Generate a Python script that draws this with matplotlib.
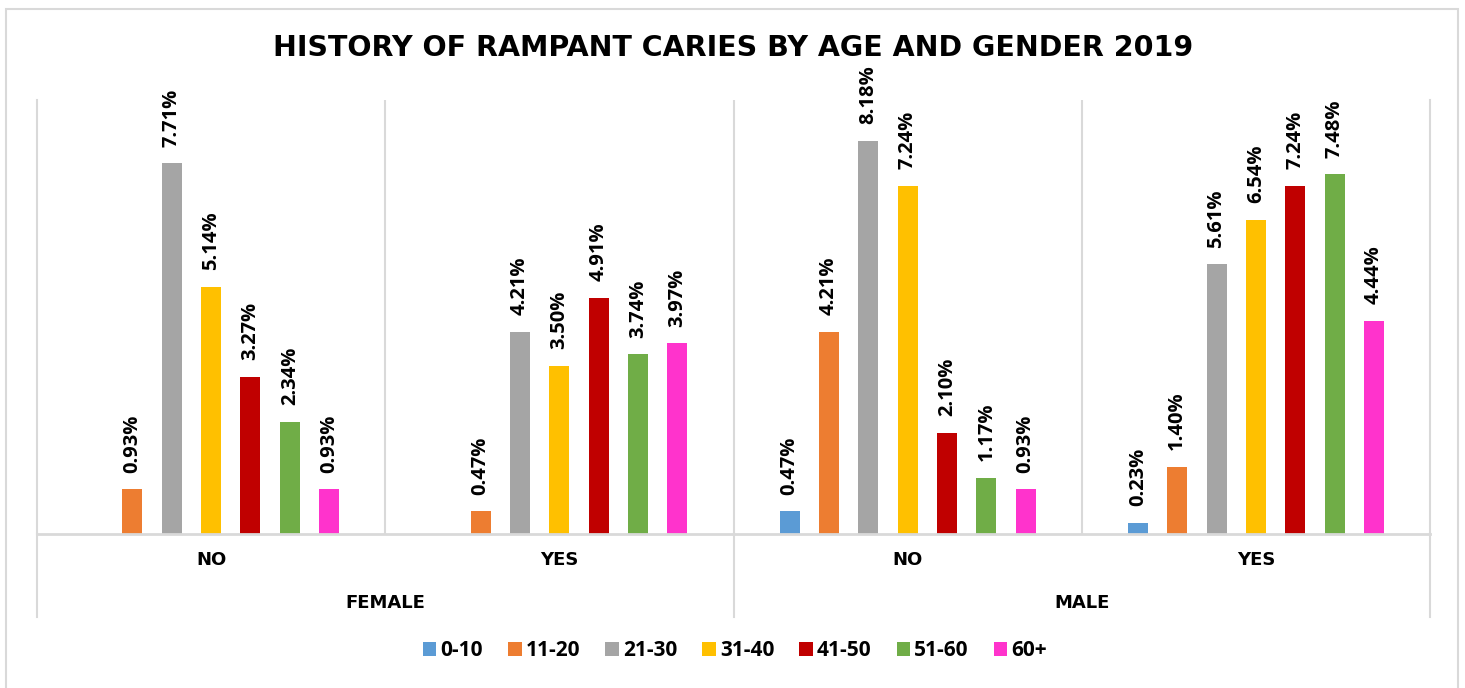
import matplotlib.pyplot as plt
from matplotlib.patches import Rectangle
import numpy as np

# Data (percent)
groups = ['NO', 'YES', 'NO', 'YES']
genders = ['FEMALE', 'MALE']
ages = ['0-10', '11-20', '21-30', '31-40', '41-50', '51-60', '60+']
colors = ['#5B9BD5', '#ED7D31', '#A5A5A5', '#FFC000', '#C00000', '#70AD47', '#FF33CC']

age_0_10 = [0, 0, 0.47, 0.23]
age_11_20 = [0.93, 0.47, 4.21, 1.40]
age_21_30 = [7.71, 4.21, 8.18, 5.61]
age_31_40 = [5.14, 3.50, 7.24, 6.54]
age_41_50 = [3.27, 4.91, 2.10, 7.24]
age_51_60 = [2.34, 3.74, 1.17, 7.48]
age_60_plus = [0.93, 3.97, 0.93, 4.44]
series = [age_0_10, age_11_20, age_21_30, age_31_40, age_41_50, age_51_60, age_60_plus]

W, H = 1465, 688
fig = plt.figure(figsize=(W / 100, H / 100), dpi=100)
grid_col = '#D9D9D9'
lab_font = 'Open Sans'

# Outer chart border
fig.patches.append(Rectangle((6 / W, -0.02), (1458 - 6) / W, 1.02 - 9 / H,
                             transform=fig.transFigure, fill=False,
                             edgecolor=grid_col, lw=1.5))

ax = fig.add_axes([37 / W, 1 - 534 / H, (1430 - 37) / W, (534 - 100) / H])

x = np.arange(len(groups))
slot = 0.113
width = 0.0575
handles = []
for i, (vals, col) in enumerate(zip(series, colors)):
    pos = x + (i - 3) * slot
    bars = ax.bar(pos, vals, width, color=col, label=ages[i])
    handles.append(bars)
    for px, v in zip(pos, vals):
        if v > 0:
            ax.annotate(f'{v:.2f}%', (px, v), xytext=(0, 12), textcoords='offset points',
                        rotation=90, ha='center', va='bottom',
                        fontsize=14.5, fontweight='bold', family=lab_font)

ax.set_xlim(-0.5, 3.5)
ax.set_ylim(0, 9.03)
ax.set_xticks([])
ax.set_yticks([])
ax.spines['top'].set_visible(False)
for s in ['left', 'right', 'bottom']:
    ax.spines[s].set_color(grid_col)
    ax.spines[s].set_linewidth(1.5)
ax.spines['bottom'].set_linewidth(2)

# separators between inner categories
for xs in [0.5, 1.5, 2.5]:
    ax.axvline(xs, color=grid_col, lw=1.5)

# multi-level category axis
trans = ax.get_xaxis_transform()
low = (534 - 617) / (534 - 100)
for xs in [-0.5, 1.5, 3.5]:
    ax.plot([xs, xs], [0, low], color=grid_col, lw=1.5, transform=trans, clip_on=False)
for xi, g in zip(x, groups):
    ax.text(xi, (534 - 560) / (534 - 100), g, transform=trans, ha='center', va='center',
            fontsize=13, fontweight='bold')
for gi, g in enumerate(genders):
    ax.text(gi * 2 + 0.5, (534 - 603) / (534 - 100), g, transform=trans, ha='center',
            va='center', fontsize=13, fontweight='bold')

fig.text(733 / W, 1 - 48 / H, 'HISTORY OF RAMPANT CARIES BY AGE AND GENDER 2019',
         ha='center', va='center', fontsize=20.5, fontweight='bold')

fig.legend(handles=handles, labels=ages, loc='center', bbox_to_anchor=(735 / W, 1 - 651 / H),
           ncol=7, frameon=False, prop={'family': lab_font, 'weight': 'bold', 'size': 15},
           handlelength=0.65, handleheight=0.65, handletextpad=0.2, columnspacing=1.2)

fig.savefig('out.png', dpi=100)
